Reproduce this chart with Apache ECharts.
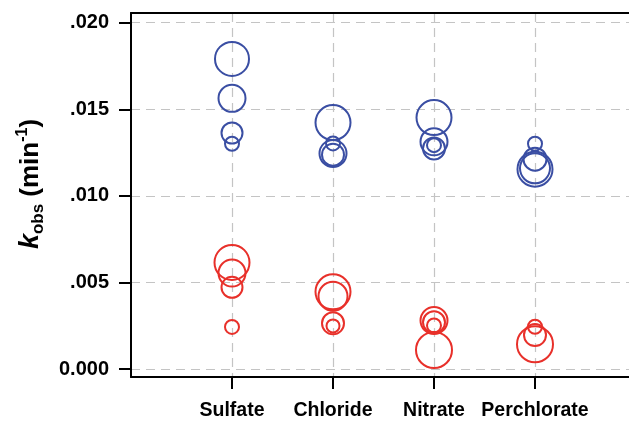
<!DOCTYPE html>
<html>
<head>
<meta charset="utf-8">
<script src="https://cdn.jsdelivr.net/npm/echarts@6/dist/echarts.min.js"></script>
<style>html,body{margin:0;padding:0;background:#fff}#c{width:629px;height:421px}</style>
</head>
<body>
<div id="c"></div>
<script>
// Data
var categories = ['Sulfate', 'Chloride', 'Nitrate', 'Perchlorate'];
var yTicks = [0, 0.005, 0.010, 0.015, 0.020];
var yTickLabels = ['0.000', '.005', '.010', '.015', '.020'];
// per-category k_obs values (min^-1) and bubble diameters
var blueValues = [
  [0.01791, 0.01563, 0.01363, 0.01301],
  [0.01423, 0.01245, 0.01238, 0.01303],
  [0.01452, 0.01312, 0.01274, 0.01293],
  [0.01154, 0.01159, 0.01212, 0.01301]
];
var blueSizes = [
  [34, 27, 21, 14],
  [35, 27, 22, 14],
  [35, 27, 22, 14],
  [35, 30, 23, 14]
];
var redValues = [
  [0.00615, 0.00554, 0.00472, 0.00243],
  [0.00446, 0.00420, 0.00264, 0.00249],
  [0.00110, 0.00280, 0.00270, 0.00252],
  [0.00143, 0.00196, 0.00244]
];
var redSizes = [
  [35, 27, 21, 14],
  [35, 29, 22, 13],
  [36, 27, 22, 14],
  [36, 22, 14]
];

function build(vals, sizes) {
  var out = [];
  for (var c = 0; c < vals.length; c++) {
    for (var i = 0; i < vals[c].length; i++) {
      out.push({ value: [c + 1, vals[c][i]], symbolSize: sizes[c][i] });
    }
  }
  return out;
}

var FONT = 'Liberation Sans, Arial, Helvetica, sans-serif';
var chart = echarts.init(document.getElementById('c'), null, { renderer: 'canvas' });
chart.setOption({
  animation: false,
  backgroundColor: '#fff',
  grid: {
    left: 131, top: 13, width: 505, height: 364,
    outerBoundsMode: 'none', containLabel: false,
    show: false
  },
  xAxis: [{
    type: 'value', min: 0, max: 5,
    axisLine: { show: true, onZero: false, lineStyle: { color: '#000', width: 2 } },
    axisTick: { show: true, customValues: [1, 2, 3, 4], length: 12, lineStyle: { color: '#000', width: 2 } },
    axisLabel: {
      customValues: [1, 2, 3, 4],
      margin: 24,
      color: '#000', fontFamily: FONT, fontWeight: 'bold', fontSize: 19.5,
      formatter: function (v) { return categories[Math.round(v) - 1] || ''; }
    },
    splitLine: { show: true, lineStyle: { color: '#c4c4c4', width: 1.2, type: [9, 6] } }
  }, {
    type: 'value', min: 0, max: 5, position: 'top',
    axisLine: { show: true, onZero: false, lineStyle: { color: '#000', width: 2 } },
    axisTick: { show: false }, axisLabel: { show: false }, splitLine: { show: false }
  }],
  yAxis: {
    type: 'value', min: -0.00046, max: 0.02056,
    axisLine: { show: true, onZero: false, lineStyle: { color: '#000', width: 2 } },
    axisTick: { show: true, customValues: yTicks, length: 12, lineStyle: { color: '#000', width: 2 } },
    axisLabel: {
      customValues: yTicks,
      margin: 22,
      color: '#000', fontFamily: FONT, fontWeight: 'bold', fontSize: 20,
      formatter: function (v) {
        for (var i = 0; i < yTicks.length; i++) if (Math.abs(yTicks[i] - v) < 1e-9) return yTickLabels[i];
        return '';
      }
    },
    splitLine: { show: true, lineStyle: { color: '#c4c4c4', width: 1.2, type: [9, 6] } },
    name: '{k|k}{sub|obs}{n| (min}{sup|-1}{n|)}',
    nameLocation: 'middle',
    nameRotate: 90,
    nameGap: 84,
    nameTextStyle: {
      padding: [0, 0, 0, 22],
      rich: {
        k: { fontFamily: FONT, fontWeight: 'bold', fontStyle: 'italic', fontSize: 27, color: '#000', lineHeight: 32, verticalAlign: 'middle' },
        sub: { fontFamily: FONT, fontWeight: 'bold', fontSize: 17, color: '#000', lineHeight: 32, verticalAlign: 'bottom' },
        sup: { fontFamily: FONT, fontWeight: 'bold', fontSize: 16, color: '#000', lineHeight: 32, verticalAlign: 'top' },
        n: { fontFamily: FONT, fontWeight: 'bold', fontSize: 26, color: '#000', lineHeight: 32, verticalAlign: 'middle' }
      }
    }
  },
  series: [
    {
      type: 'scatter', symbol: 'circle',
      data: build(blueValues, blueSizes),
      itemStyle: { color: 'rgba(0,0,0,0)', borderColor: '#3a4ea3', borderWidth: 2, opacity: 1 },
      z: 3
    },
    {
      type: 'scatter', symbol: 'circle',
      data: build(redValues, redSizes),
      itemStyle: { color: 'rgba(0,0,0,0)', borderColor: '#e8302a', borderWidth: 2, opacity: 1 },
      z: 3
    }
  ]
});
</script>
</body>
</html>
